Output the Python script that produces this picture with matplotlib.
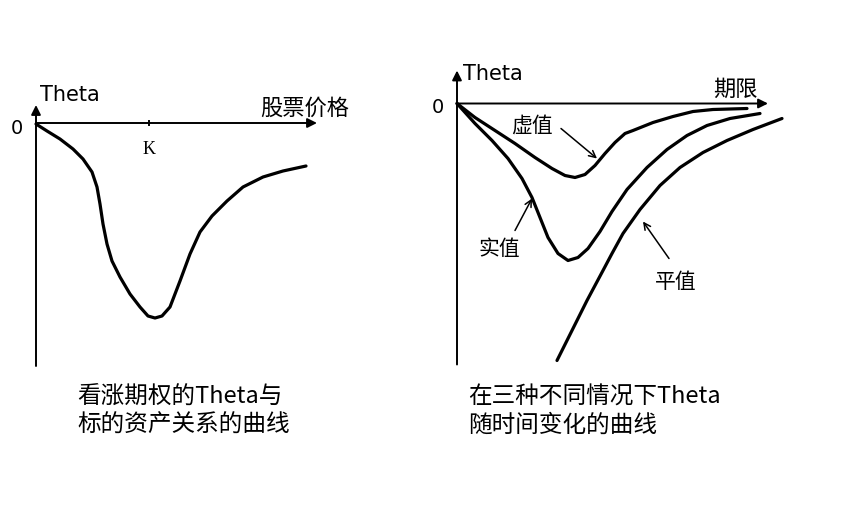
import matplotlib.pyplot as plt

plt.rcParams['font.family'] = ['Noto Sans CJK SC', 'DejaVu Sans']

# Left panel: Theta of a call vs stock price (origin at the axes crossing)
stock_price = [0, 11, 24, 37, 47, 56, 61, 64, 67, 71, 76, 84, 94, 104, 112,
               119, 126, 134, 144, 154, 164, 176, 191, 207, 227, 247, 270]
theta_price = [-1, -8, -16, -26, -36, -49, -64, -81, -101, -121, -138, -154,
               -171, -184, -193, -195, -193, -184, -158, -131, -109, -93, -78,
               -64, -54, -48, -43]
strike_k = 113

# Right panel: Theta vs time to expiry, three cases
otm_t = [0, 18, 38, 58, 78, 95, 108, 118, 128, 138, 148, 158, 168, 176, 196,
         216, 236, 256, 290]
otm_theta = [0, -14, -27, -40, -54, -65, -72, -74, -71, -62, -50, -39, -30,
             -27, -19, -13, -8, -6, -5]

itm_t = [0, 18, 35, 51, 65, 75, 83, 91, 101, 111, 121, 131, 143, 155, 170,
         190, 210, 230, 250, 273, 303]
itm_theta = [0, -20, -37, -55, -75, -94, -114, -134, -150, -157, -154, -145,
             -128, -108, -86, -64, -46, -32, -22, -15, -10]

atm_t = [100, 113, 130, 146, 155, 166, 183, 203, 223, 246, 270, 296, 325]
atm_theta = [-257, -231, -197, -167, -150, -130, -106, -82, -64, -49, -37,
             -26, -15]

fig = plt.figure(figsize=(8.61, 5.06), dpi=100)

eixo = dict(arrowstyle='-|>', lw=1.4, color='black', mutation_scale=14,
            shrinkA=0, shrinkB=0)
seta = dict(arrowstyle='->', lw=1.1, color='black', mutation_scale=12,
            shrinkA=0, shrinkB=0)
traco = dict(color='black', lw=2.3, solid_capstyle='round',
             solid_joinstyle='round')
leve = dict(fontweight='light')

# ---- left panel ----
ax1 = fig.add_axes([0, 1 - 380 / 506, 430 / 861, 310 / 506])
ax1.set_xlim(-36, 394)
ax1.set_ylim(-256, 54)
ax1.axis('off')

ax1.annotate('', xy=(281, 0), xytext=(0, 0), arrowprops=eixo)
ax1.annotate('', xy=(0, 18), xytext=(0, -243), arrowprops=eixo)
ax1.plot([strike_k, strike_k], [-2, 2], color='black', lw=1.4)
ax1.plot(stock_price, theta_price, **traco)

ax1.text(4, 29, 'Theta', fontsize=15, family='DejaVu Sans', va='center')
ax1.text(-19, -4, '0', fontsize=14, family='DejaVu Sans', ha='center',
         va='center')
ax1.text(strike_k, -26, 'K', fontsize=13, family='Liberation Serif',
         ha='center', va='center')
ax1.text(224, 16, '股票价格', fontsize=16, va='center', **leve)

# ---- right panel ----
ax2 = fig.add_axes([420 / 861, 1 - 380 / 506, 430 / 861, 330 / 506])
ax2.set_xlim(-37, 393)
ax2.set_ylim(-275.5, 54.5)
ax2.axis('off')

ax2.annotate('', xy=(311, 0), xytext=(0, 0), arrowprops=eixo)
ax2.annotate('', xy=(0, 33), xytext=(0, -261), arrowprops=eixo)
for t, th in [(otm_t, otm_theta), (itm_t, itm_theta), (atm_t, atm_theta)]:
    ax2.plot(t, th, **traco)

ax2.text(6, 30, 'Theta', fontsize=15, family='DejaVu Sans', va='center')
ax2.text(-19, -3, '0', fontsize=14, family='DejaVu Sans', ha='center',
         va='center')
ax2.text(256, 15, '期限', fontsize=16, va='center', **leve)

ax2.text(75, -21, '虚值', fontsize=15, ha='center', va='center', **leve)
ax2.annotate('', xy=(140, -55), xytext=(104, -25), arrowprops=seta)
ax2.text(42, -145, '实值', fontsize=15, ha='center', va='center', **leve)
ax2.annotate('', xy=(75, -95), xytext=(58, -127), arrowprops=seta)
ax2.text(219, -177, '平值', fontsize=15, ha='center', va='center', **leve)
ax2.annotate('', xy=(186, -118), xytext=(212, -155), arrowprops=seta)

# ---- captions ----
fig.text(77 / 861, 1 - 397 / 506, '看涨期权的Theta与', fontsize=17,
         va='center', **leve)
fig.text(77 / 861, 1 - 425 / 506, '标的资产关系的曲线', fontsize=17,
         va='center', **leve)
fig.text(468 / 861, 1 - 397 / 506, '在三种不同情况下Theta', fontsize=17,
         va='center', **leve)
fig.text(468 / 861, 1 - 425 / 506, '随时间变化的曲线', fontsize=17,
         va='center', **leve)

fig.savefig('out.png', dpi=100)
